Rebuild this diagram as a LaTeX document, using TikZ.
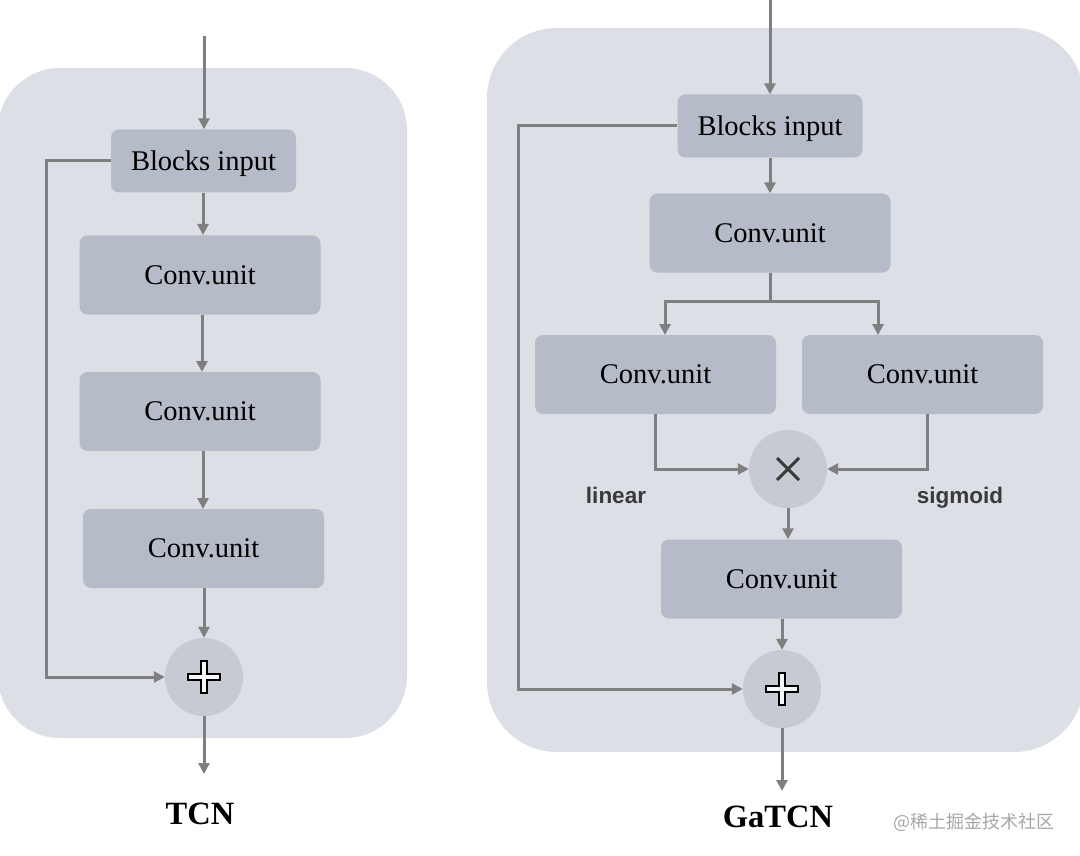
\documentclass[tikz,border=0pt]{standalone}
\usepackage{fontspec}
\setmainfont{Liberation Serif}
\newfontfamily\labsans{Liberation Sans}
\newfontfamily\cjk{Noto Sans CJK SC}
\usetikzlibrary{arrows.meta,calc}
\definecolor{panel}{HTML}{DDDFE7}
\definecolor{boxc}{HTML}{B5BBC7}
\definecolor{circc}{HTML}{C6CAD2}
\definecolor{arr}{HTML}{7F7F7F}
\definecolor{labc}{HTML}{3A3A3A}
\tikzset{
  panelbox/.style={fill=panel, draw=none, rounded corners=62pt},
  unitbox/.style={fill=boxc, draw=none, rounded corners=8pt, inner sep=0pt,
    minimum width=241pt, minimum height=79pt, font=\fontsize{28.5}{30}\selectfont},
  inbox/.style={fill=boxc, draw=none, rounded corners=8pt, inner sep=0pt, text depth=0pt,
    minimum width=185pt, minimum height=63pt, font=\fontsize{28.5}{30}\selectfont},
  opcirc/.style={circle, fill=circc, draw=none, minimum size=78pt, inner sep=0pt},
  conn/.style={draw=arr, line width=3pt, -{Triangle[length=11pt,width=11pt]}},
  line/.style={draw=arr, line width=3pt},
  gatelab/.style={font=\labsans\bfseries\fontsize{22.5}{24}\selectfont, text=labc, anchor=base},
  title/.style={font=\bfseries\fontsize{32.5}{34}\selectfont},
  plussign/.pic={\draw[black, line width=1.5pt, fill=white!85!circc]
      (-3,-16) -- (3,-16) -- (3,-3) -- (16,-3) -- (16,3) -- (3,3) -- (3,16) -- (-3,16)
      -- (-3,3) -- (-16,3) -- (-16,-3) -- (-3,-3) -- cycle;},
  timessign/.pic={\draw[labc, line width=3pt] (-11,-11) -- (11,11) (-11,11) -- (11,-11);}
}
\begin{document}
\begin{tikzpicture}[x=1pt,y=-1pt]
\useasboundingbox (0,0) rectangle (1080,856);
% panels
\path[panelbox] (-2,68) rectangle (407,738);
\path[panelbox, rounded corners=70pt] (487,28) rectangle (1084,752);

% ---------- TCN ----------
\coordinate (Ltop) at (204,36);
\node[inbox] (Lin) at (203.5,161) {Blocks input};
\node[unitbox] (L1) at (200,275) {Conv.unit};
\node[unitbox] (L2) at (200,411.5) {Conv.unit};
\node[unitbox] (L3) at (203.5,548.5) {Conv.unit};
\node[opcirc] (Lplus) at (204,677) {};
\pic at (Lplus) {plussign};
\coordinate (Lout) at (204,774);
\coordinate (Lskip) at (46,161);

\draw[conn] (Ltop) -- (Ltop |- Lin.north);
\draw[conn] (Lin.south -| 203,0) -- (203,235);
\draw[conn] (L1.south -| 202,0) -- (202,372);
\draw[conn] (L2.south -| 203,0) -- (203,509);
\draw[conn] (L3.south -| 204,0) -- (Lplus.north);
\draw[conn] (Lplus.south) -- (Lout);
\draw[conn] (Lin.west) -- (Lskip) |- (Lplus.west);
\node[title] (Ltitle) at (200,814) {TCN};

% ---------- GaTCN ----------
\coordinate (Rtop) at (770,0);
\node[inbox] (Rin) at (770,126) {Blocks input};
\node[unitbox] (R1) at (770,233) {Conv.unit};
\node[unitbox] (Ra) at (655.5,374.5) {Conv.unit};
\node[unitbox] (Rb) at (922.5,374.5) {Conv.unit};
\node[opcirc] (Rtimes) at (788,469) {};
\pic at (Rtimes) {timessign};
\node[unitbox] (R2) at (781.5,579) {Conv.unit};
\node[opcirc] (Rplus) at (782,689) {};
\pic at (Rplus) {plussign};
\coordinate (Rout) at (782,791);
\coordinate (Rsplit) at (770,301);
\coordinate (Rskip) at (518,126);

\draw[conn] (Rtop) -- (Rin.north);
\draw[conn] (Rin.south) -- (R1.north);
\draw[line] (R1.south) -- (Rsplit);
\draw[conn] (Rsplit) -| (665,335);
\draw[conn] (Rsplit) -| (878,335);
\draw[conn] (655,414) |- (Rtimes.west);
\draw[conn] (927,414) |- (Rtimes.east);
\draw[conn] (Rtimes.south) -- (Rtimes.south |- R2.north);
\draw[conn] (R2.south -| Rplus) -- (Rplus.north);
\draw[conn] (Rplus.south) -- (Rout);
\draw[conn] (Rin.west) -- (Rskip) |- (Rplus.west);
\node[gatelab] (lin) at (616,503) {linear};
\node[gatelab] (sig) at (960,503) {sigmoid};
\node[title] (Rtitle) at (778,817) {GaTCN};

\node[font=\cjk\fontsize{18}{20}\selectfont, text=black!35, anchor=west, inner sep=0pt] (wm) at (893,822) {@稀土掘金技术社区};
\end{tikzpicture}
\end{document}
